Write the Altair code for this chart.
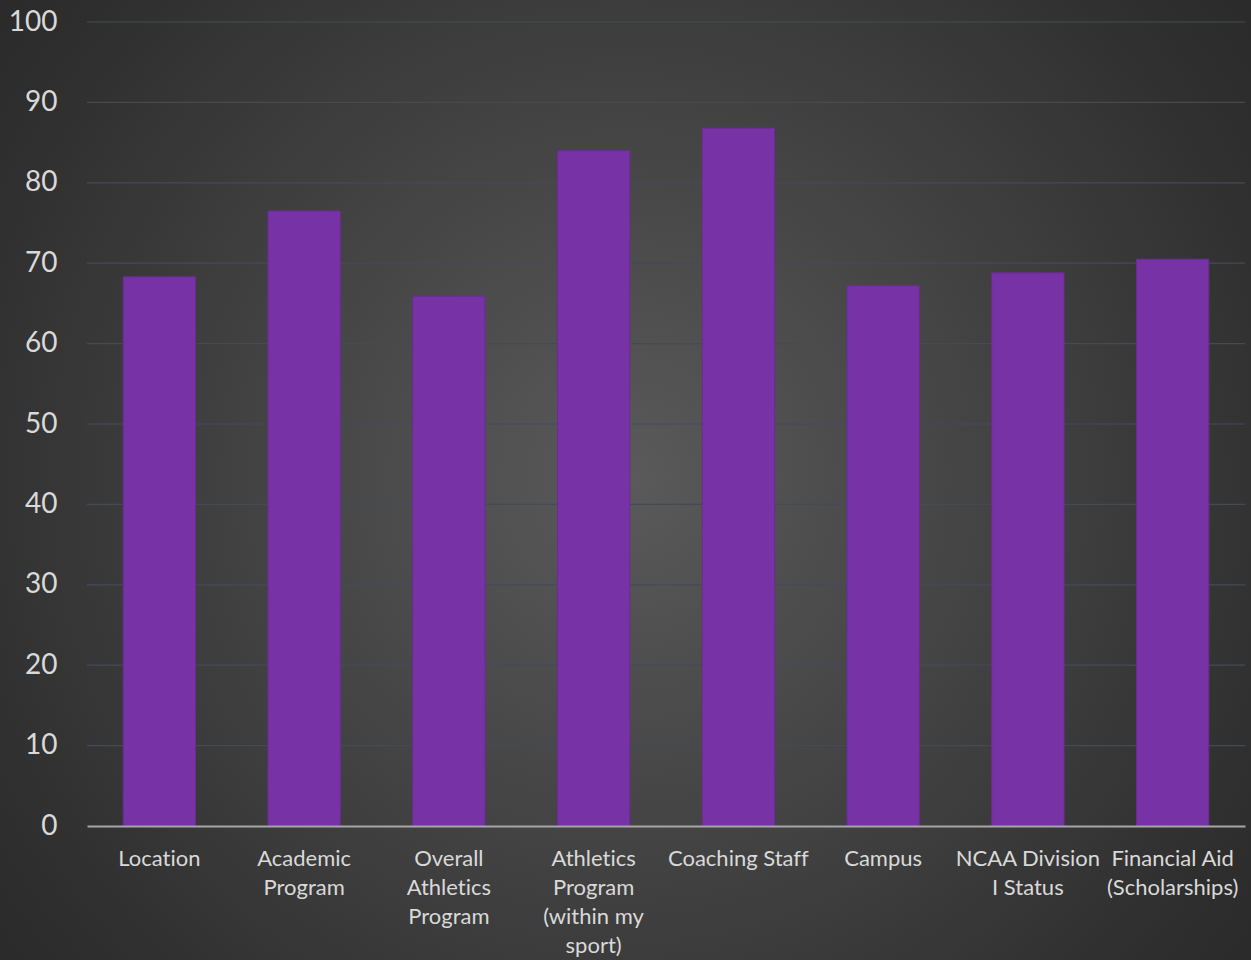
import altair as alt
import pandas as pd

categories = [
    "Location",
    "Academic|Program",
    "Overall|Athletics|Program",
    "Athletics|Program|(within my|sport)",
    "Coaching Staff",
    "Campus",
    "NCAA Division|I Status",
    "Financial Aid|(Scholarships)",
]
values = [68.3, 76.5, 65.9, 84.0, 86.8, 67.2, 68.8, 70.5]
grid_ticks = [10, 20, 30, 40, 50, 60, 70, 80, 90, 100]
y_ticks = [0, 10, 20, 30, 40, 50, 60, 70, 80, 90, 100]

df = pd.DataFrame({"cat": categories, "val": values})
grid_df = pd.DataFrame({"g": grid_ticks})

W, H = 1158, 804
PL, PT, PR, PB = 87, 22, 6, 134

bg = alt.Chart(pd.DataFrame({"a": [0]})).mark_rect(
    color=alt.Gradient(
        gradient="radial",
        stops=[alt.GradientStop(color="#5a5a5a", offset=0),
               alt.GradientStop(color="#2e2e2e", offset=0.75),
               alt.GradientStop(color="#252525", offset=1)],
        x1=0.5, y1=0.5, r1=0, x2=0.5, y2=0.5, r2=0.75,
    )
).encode(
    x=alt.value(-PL), x2=alt.value(W + PR),
    y=alt.value(-PT), y2=alt.value(H + PB),
)

yscale = alt.Scale(domain=[0, 100], nice=False)
yaxis = alt.Axis(
    title=None, values=y_ticks,
    grid=False, domain=False, ticks=False,
    labelFont="Lato", labelFontSize=28, labelColor="#d9d9d9",
    labelPadding=30, zindex=1,
)

grid = alt.Chart(grid_df).mark_rule(color="#444a57", strokeWidth=1.2).encode(
    y=alt.Y("g:Q", scale=yscale, axis=yaxis),
    x=alt.value(0), x2=alt.value(W),
)

label_expr = "replace(replace(datum.label, /ti/g, 't\u200ci'), /ff/g, 'f\u200cf')"
label_expr = "split(" + label_expr + ", '|')"

bars = alt.Chart(df).mark_bar(color="#7733a6", stroke="#6a2c94", strokeWidth=1).encode(
    x=alt.X(
        "cat:N", sort=categories,
        scale=alt.Scale(paddingInner=0.5, paddingOuter=0.25),
        axis=alt.Axis(
            title=None, labelAngle=0, ticks=False,
            labelExpr=label_expr,
            labelFont="Lato", labelFontSize=22, labelColor="#d9d9d9",
            labelLineHeight=29, labelPadding=22, labelBaseline="top",
            domainColor="#a6a6a6", domainWidth=2, zindex=1,
            labelLimit=300,
        ),
    ),
    y=alt.Y("val:Q", scale=yscale, axis=yaxis),
)

chart = alt.layer(bg, grid, bars).properties(
    width=W, height=H,
    autosize=alt.AutoSizeParams(type="none"),
    padding={"left": PL, "top": PT, "right": PR, "bottom": PB},
    background="#262626",
).configure_view(stroke=None)

chart.save("out.html", embed_options={"renderer": "svg", "actions": False})
